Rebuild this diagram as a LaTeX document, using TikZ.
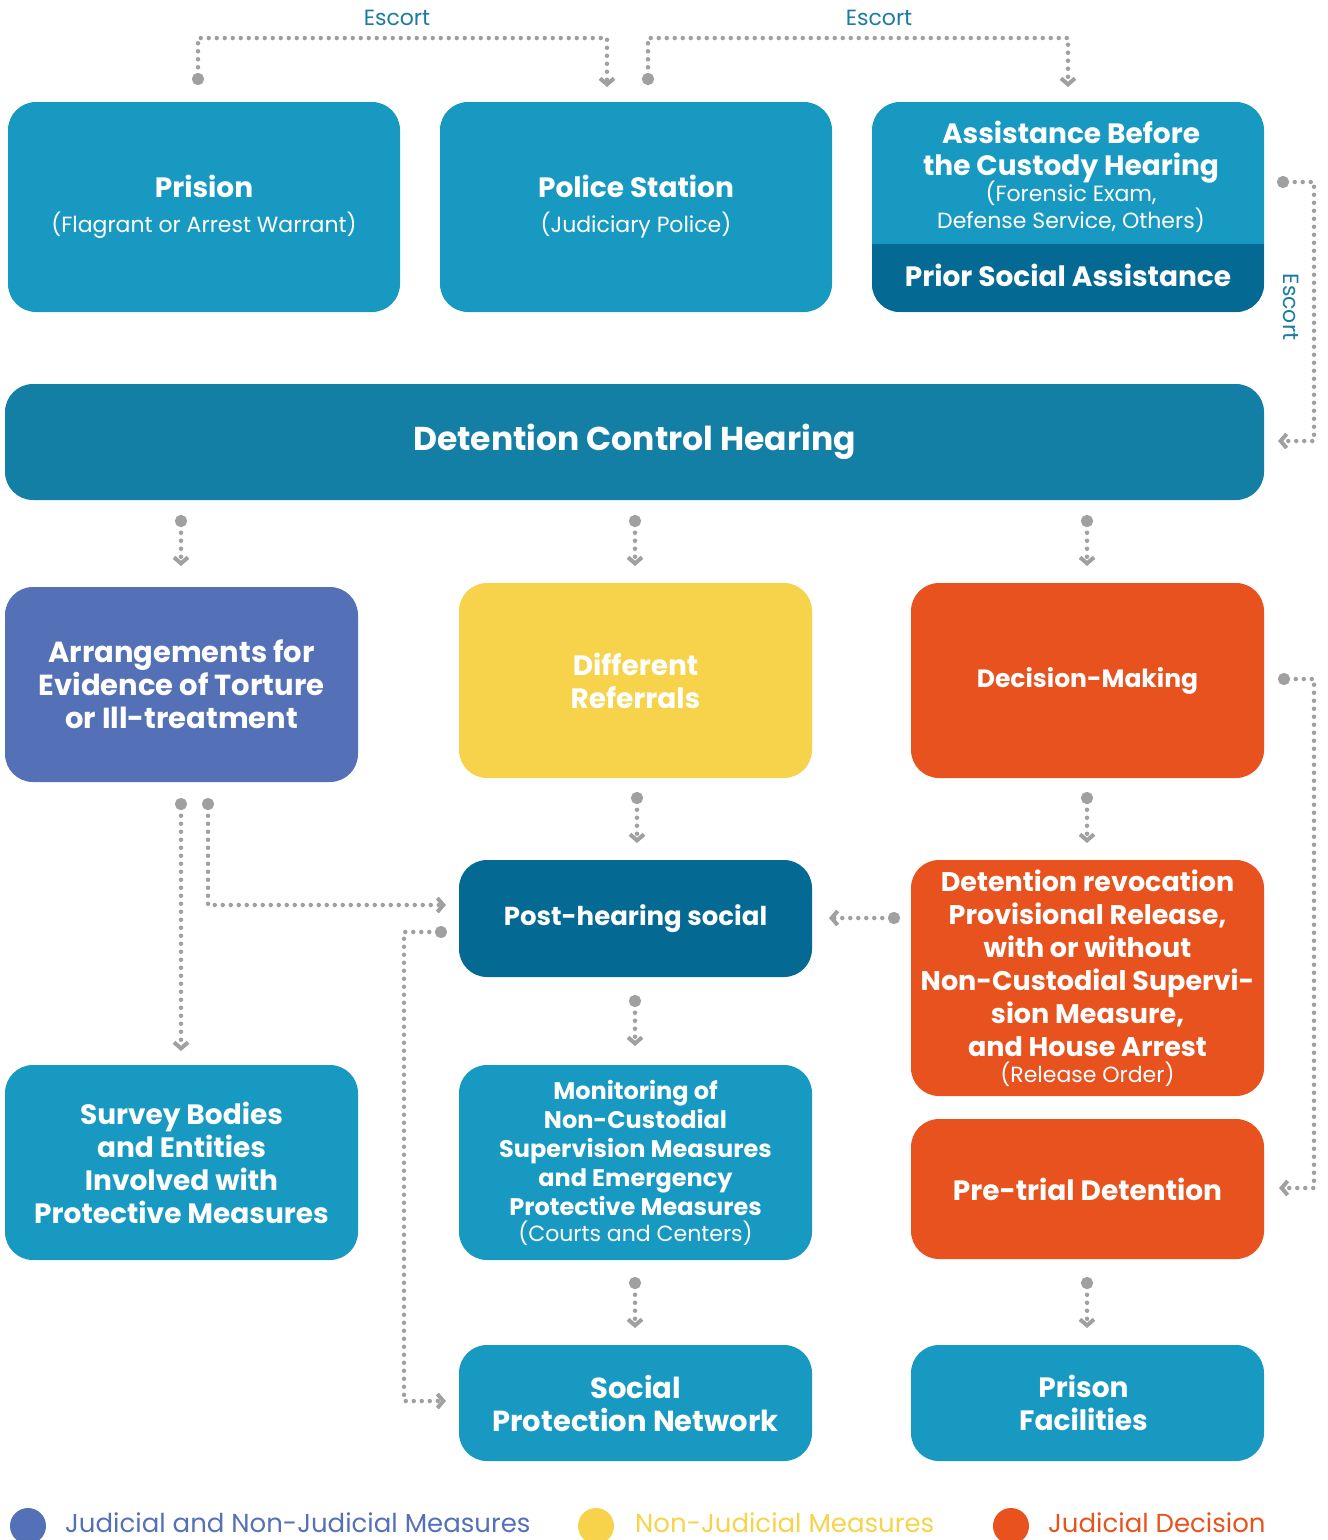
\documentclass[tikz,border=0pt]{standalone}
\usepackage{fontspec}
\setmainfont{Poppins}
\usetikzlibrary{arrows.meta}

\definecolor{boxblue}{HTML}{1899C2}
\definecolor{hearblue}{HTML}{137FA4}
\definecolor{deepblue}{HTML}{046A93}
\definecolor{mixpurple}{HTML}{5470B6}
\definecolor{nonyellow}{HTML}{F6D34B}
\definecolor{judorange}{HTML}{E8521F}
\definecolor{linkgray}{HTML}{A0A0A0}
\definecolor{escortblue}{HTML}{1C7BA3}

\newcommand{\subtxt}[1]{{\fontsize{22}{26}\selectfont\mdseries #1}}
\newcommand{\fsz}[1]{\fontsize{#1}{33}\selectfont\bfseries}

\tikzset{%
  stage/.style = {
    shape=rectangle, rounded corners=28pt, inner sep=0pt,
    align=center, text=white, font=\fsz{28}
  },
  wide/.style = {minimum width=392pt, minimum height=210pt},
  narrow/.style = {minimum width=353pt},
  link/.style = {
    draw=linkgray, line width=4.5pt, line cap=round,
    dash pattern=on 0pt off 8pt,
    {Circle[length=12pt,width=12pt]}-{Straight Barb[length=6pt,width=14pt,line width=4pt]}
  },
  escort/.style = {text=escortblue, font=\fontsize{22}{24}\selectfont},
  legend/.style = {anchor=base west, inner sep=0pt, font=\fontsize{26}{30}\selectfont}
}

\begin{document}
\begin{tikzpicture}[x=1pt,y=-1pt]
  \useasboundingbox (0,0) rectangle (1328,1540);

  % top row
  \node[stage, wide, fill=boxblue] (prision) at (204,207)
    {Prision\\[2pt]\subtxt{(Flagrant or Arrest Warrant)}};
  \node[stage, wide, fill=boxblue] (police) at (636,207)
    {Police Station\\[2pt]\subtxt{(Judiciary Police)}};
  \node[stage, wide, fill=boxblue] (assist) at (1068,207) {};
  \begin{scope}
    \clip[rounded corners=28pt] (872,102) rectangle (1264,312);
    \fill[deepblue] (872,244) rectangle (1264,312);
  \end{scope}
  \node[align=center, text=white, font=\fsz{28}] (assisttxt) at (1071,177)
    {Assistance Before\\[-1pt]the Custody Hearing\\[-7pt]\subtxt{(Forensic Exam,}\\[-6pt]\subtxt{Defense Service, Others)}};
  \node[text=white, font=\fsz{28}] (prior) at (1068,275) {Prior Social Assistance};

  % hearing
  \node[stage, fill=hearblue, minimum width=1259pt, minimum height=116pt,
    font=\fsz{33}] (hearing) at (634.5,442) {Detention Control Hearing};

  % second row
  \node[stage, narrow, minimum height=195pt, fill=mixpurple, font=\fsz{29}] (torture) at (181.5,684.5)
    {Arrangements for\\Evidence of Torture\\or Ill-treatment};
  \node[stage, narrow, minimum height=195pt, fill=nonyellow] (referral) at (635.5,680.5)
    {Different\\Referrals};
  \node[stage, narrow, minimum height=195pt, fill=judorange, font=\fsz{25}] (decision) at (1087.5,680.5)
    {Decision-Making};

  % third row
  \node[stage, narrow, minimum height=117pt, fill=deepblue, font=\fsz{26}] (posthear) at (635.5,918.5)
    {Post-hearing social};
  \node[stage, narrow, minimum height=236pt, fill=judorange, font=\fsz{27}] (revoke) at (1087.5,978)
    {Detention revocation\\Provisional Release,\\with or without\\Non-Custodial Supervi-\\sion Measure,\\and House Arrest\\[-7pt]\subtxt{(Release Order)}};

  % fourth row
  \node[stage, narrow, minimum height=195pt, fill=boxblue] (survey) at (181.5,1162.5)
    {Survey Bodies\\and Entities\\Involved with\\Protective Measures};
  \node[stage, narrow, minimum height=195pt, fill=boxblue,
    font=\fontsize{24}{29}\selectfont\bfseries] (monitor) at (635.5,1162.5)
    {Monitoring of\\Non-Custodial\\Supervision Measures\\and Emergency\\Protective Measures\\[-3pt]\subtxt{(Courts and Centers)}};
  \node[stage, narrow, minimum height=140pt, fill=judorange] (pretrial) at (1087.5,1189)
    {Pre-trial Detention};

  % bottom row
  \node[stage, narrow, minimum height=116pt, fill=boxblue, font=\fsz{29}] (network) at (635.5,1403)
    {Social\\Protection Network};
  \node[stage, narrow, minimum height=116pt, fill=boxblue] (facility) at (1087.5,1403)
    {\hspace*{-8pt}Prison\\\hspace*{-8pt}Facilities};

  % escort links
  \coordinate (esc1a) at (198,85);
  \coordinate (esc1b) at (607,87);
  \coordinate (esc2a) at (648,85);
  \coordinate (esc2b) at (1068,87);
  \coordinate (esc3a) at (1277,182);
  \coordinate (esc3b) at (1278,441);
  \draw[link] (esc1a) |- (402,38) -| (esc1b);
  \draw[link] (esc2a) |- (860,38) -| (esc2b);
  \draw[link] (esc3a) -| (1314,300) |- (esc3b);
  \node[escort] (escort1) at (397,18) {Escort};
  \node[escort] (escort2) at (879,18) {Escort};
  \node[escort, rotate=-90] (escort3) at (1291,307) {Escort};

  % hearing to second row
  \foreach \xx/\nm in {181/torture, 635/referral, 1087/decision}
    \draw[link] (\xx,515) -- (\xx,566);

  % second row onwards
  \draw[link] (637,792) -- (637,843);
  \draw[link] (1087,792) -- (1087,843);
  \coordinate (decr) at (1278,679);
  \coordinate (pretr) at (1279,1188);
  \draw[link] (decr) -| (1314,900) |- (pretr);
  \draw[link] (181,798) -- (181,1051);
  \draw[link] (208,798) |- (446,905);
  \draw[link] (447,932) -| (404,1100) |- (446,1401);
  \draw[link] (900,918) -- (829,918);
  \draw[link] (635,995) -- (635,1046);
  \draw[link] (635,1277) -- (635,1328);
  \draw[link] (1087,1277) -- (1087,1328);

  % legend
  \fill[mixpurple] (28,1526) circle (18);
  \fill[nonyellow] (596,1526) circle (18);
  \fill[judorange] (1011,1526) circle (18);
  \node[legend, text=mixpurple] (leg1) at (65,1532) {Judicial and Non-Judicial Measures};
  \node[legend, text=nonyellow] (leg2) at (635,1532) {Non-Judicial Measures};
  \node[legend, text=judorange] (leg3) at (1048,1532) {Judicial Decision};
\end{tikzpicture}
\end{document}
